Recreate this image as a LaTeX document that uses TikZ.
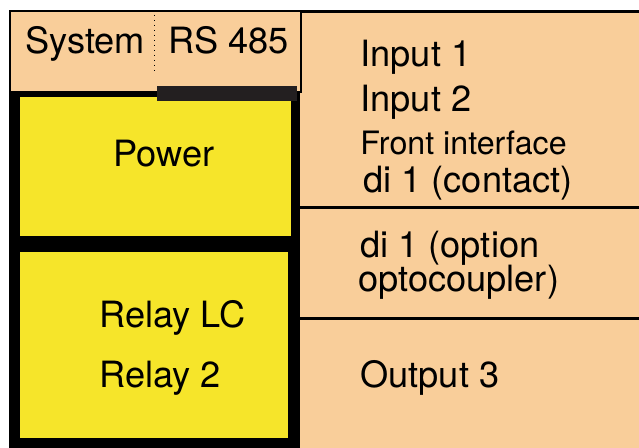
\documentclass[tikz,border=0pt]{standalone}
\usepackage{fontspec}
\setmainfont{TeX Gyre Heros}
\usepackage{xcolor}
\definecolor{peach}{HTML}{F9CE9A}
\definecolor{boxyellow}{HTML}{F6E52A}
\definecolor{barblack}{HTML}{231F20}

\begin{document}
\begin{tikzpicture}[
        x=0.5pt, y=-0.5pt,
        font=\fontsize{18.1}{22}\selectfont,
        lbl/.style={anchor=base west, inner sep=0pt},
        small/.style={font=\fontsize{16.1}{19}\selectfont},
        sep/.style={line width=1.5pt, black},
        ybox/.style={fill=boxyellow}
    ]
        \useasboundingbox (0,0) rectangle (639,448);
        \fill[white] (0,0) rectangle (639,448);

        % right panel
        \fill[peach] (300,11.5) rectangle (639,448);
        \draw[sep] (300,11.5) -- (639,11.5);
        \draw[sep] (300,207.5) -- (639,207.5);
        \draw[sep] (299,318.5) -- (639,318.5);

        % top box
        \draw[fill=peach, draw=black, line width=1pt] (9.5,11.5) rectangle (300.5,92);
        \draw[dotted, line width=0.5pt] (154,15) -- (154,73);

        % module frame
        \fill[black] (9,91) rectangle (300,448);
        \fill[ybox] (20,97) rectangle (291,236);
        \fill[ybox] (20,252) rectangle (288,438);
        \fill[barblack] (157,86) rectangle (297,101);

        \node[lbl] (sys)   at (25,54)  {System};
        \node[lbl] (rs)    at (168,54) {RS 485};
        \node[lbl] (pwr)   at (113,167) {Power};
        \node[lbl] (rlc)   at (99,328) {Relay LC};
        \node[lbl] (r2)    at (99,388) {Relay 2};

        \node[lbl] (in1)   at (360,67)  {Input 1};
        \node[lbl] (in2)   at (360,112) {Input 2};
        \node[lbl, small] (front) at (360,155) {Front interface};
        \node[lbl] (dic)   at (363,193) {di 1 (contact)};
        \node[lbl] (dio)   at (360,258) {di 1 (option};
        \node[lbl] (opto)  at (358,292) {optocoupler)};
        \node[lbl] (out3)  at (360,388) {Output 3};
    \end{tikzpicture}
\end{document}
